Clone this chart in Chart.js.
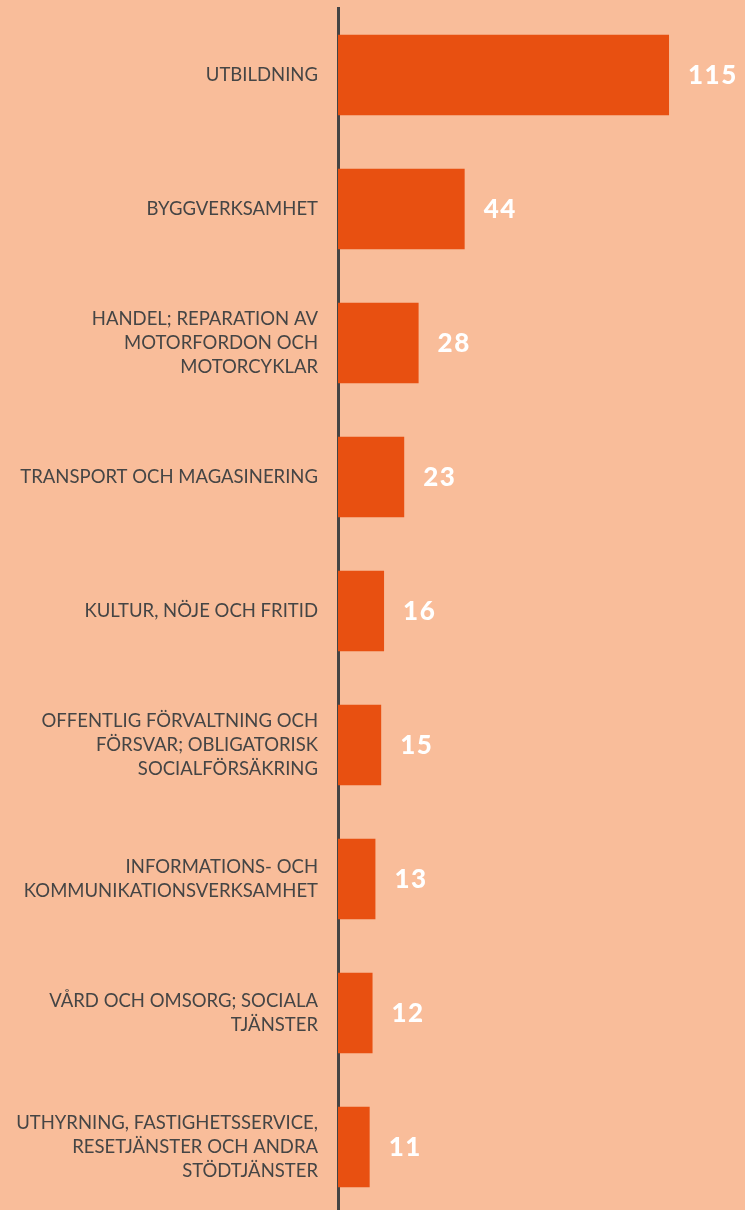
<!DOCTYPE html>
<html>
<head>
<meta charset="utf-8">
<script src="https://cdn.jsdelivr.net/npm/chart.js@4.4.1/dist/chart.umd.min.js"></script>
<style>
    html, body { margin: 0; padding: 0; background: #f9bd9a; overflow: hidden; }
    #wrap { width: 745px; height: 1214px; position: relative; }
</style>
</head>
<body>
<div id="wrap"><canvas id="chart"></canvas></div>
<script>
// Branscher (categories) and values
const categories = [
    ['UTBILDNING'],
    ['BYGGVERKSAMHET'],
    ['HANDEL; REPARATION AV', 'MOTORFORDON OCH', 'MOTORCYKLAR'],
    ['TRANSPORT OCH MAGASINERING'],
    ['KULTUR, NÖJE OCH FRITID'],
    ['OFFENTLIG FÖRVALTNING OCH', 'FÖRSVAR; OBLIGATORISK', 'SOCIALFÖRSÄKRING'],
    ['INFORMATIONS- OCH', 'KOMMUNIKATIONSVERKSAMHET'],
    ['VÅRD OCH OMSORG; SOCIALA', 'TJÄNSTER'],
    ['UTHYRNING, FASTIGHETSSERVICE,', 'RESETJÄNSTER OCH ANDRA', 'STÖDTJÄNSTER']
];
const values = [115, 44, 28, 23, 16, 15, 13, 12, 11];

// Draw the white value labels to the right of each bar
const valueLabels = {
    id: 'valueLabels',
    afterDatasetsDraw(chart) {
        const ctx = chart.ctx;
        const meta = chart.getDatasetMeta(0);
        ctx.save();
        ctx.fillStyle = '#ffffff';
        ctx.font = '900 26px Lato';
        ctx.letterSpacing = '1.5px';
        ctx.textAlign = 'left';
        ctx.textBaseline = 'middle';
        meta.data.forEach((bar, i) => {
            ctx.fillText(String(values[i]), bar.x + 19, bar.y + 1);
        });
        ctx.restore();
    }
};

new Chart(document.getElementById('chart'), {
    type: 'bar',
    data: {
        labels: categories,
        datasets: [{
            data: values,
            backgroundColor: '#e85011',
            borderWidth: 0,
            categoryPercentage: 1,
            barPercentage: 0.6
        }]
    },
    options: {
        indexAxis: 'y',
        responsive: true,
        maintainAspectRatio: false,
        animation: false,
        layout: { padding: { top: 8, right: 4, left: 0, bottom: 0 } },
        plugins: {
            legend: { display: false },
            tooltip: { enabled: false }
        },
        scales: {
            x: {
                display: false,
                min: 0,
                max: 140
            },
            y: {
                afterFit(scale) {
                    scale.width = 338;
                    scale.paddingTop = 0;
                    scale.paddingBottom = 0;
                },
                grid: { display: false, drawTicks: false },
                border: { display: true, color: '#444444', width: 3 },
                ticks: {
                    padding: 20,
                    color: '#454545',
                    font: { family: 'Lato', size: 18.5, lineHeight: 1.3 }
                }
            }
        }
    },
    plugins: [valueLabels]
});
</script>
</body>
</html>
